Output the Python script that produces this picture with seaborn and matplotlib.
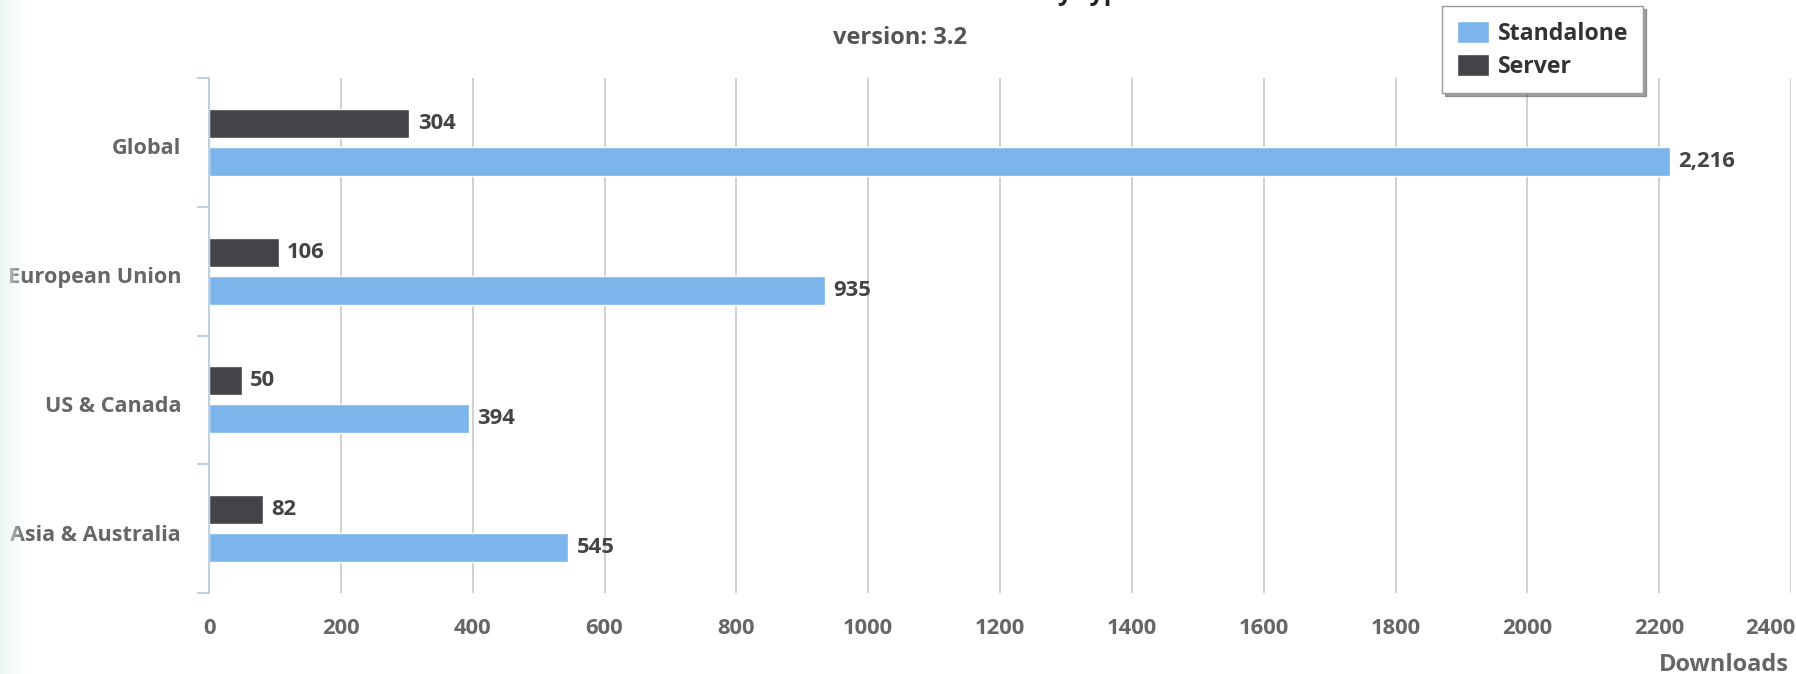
import numpy as np
import pandas as pd
import matplotlib
matplotlib.use("Agg")
import matplotlib.pyplot as plt
import matplotlib.transforms as mtransforms
import seaborn as sns
from matplotlib.patches import Patch

# ---- data ----
regions = ["Global", "European Union", "US & Canada", "Asia & Australia"]
standalone = [2216, 935, 394, 545]
server = [304, 106, 50, 82]
series_names = ["Standalone", "Server"]
x_ticks = list(range(0, 2401, 200))
title = "Downloads by type"
subtitle = "version: 3.2"
x_label = "Downloads"

colors = {"Standalone": "#7cb5ec", "Server": "#434348"}

df = pd.DataFrame({
    "region": regions * 2,
    "type": ["Standalone"] * len(regions) + ["Server"] * len(regions),
    "downloads": standalone + server,
})

sns.set_theme(style="white")
plt.rcParams["font.family"] = ["Open Sans", "DejaVu Sans"]

W, H = 1796, 674
fig = plt.figure(figsize=(W / 100, H / 100), dpi=100)
fig.patch.set_facecolor("white")
ax = fig.add_axes([209 / W, 1 - 593 / H, (1791 - 209) / W, (593 - 78) / H])

sns.barplot(data=df, y="region", x="downloads", hue="type",
            hue_order=["Server", "Standalone"], order=regions,
            palette=colors, width=0.59, gap=0.24, orient="h",
            legend=False, ax=ax, saturation=1, linewidth=1,
            edgecolor="white")

for cont in ax.containers:
    ax.bar_label(cont, labels=[f"{int(v):,}" for v in cont.datavalues],
                 padding=6, fontsize=15.8, fontweight="bold", color="#444444")

ax.set_xlim(0, 2400)
ax.set_ylim(3.5, -0.5)
ax.set_xticks(x_ticks)
ax.set_xticklabels([str(t) for t in x_ticks])
ax.set_xlabel("")
ax.set_ylabel("")
ax.xaxis.grid(True, color="#c8c8c8", lw=1.2)
ax.yaxis.grid(False)
ax.set_axisbelow(True)
for s in ["top", "right", "bottom"]:
    ax.spines[s].set_visible(False)
ax.spines["left"].set_color("#c0d0e0")
ax.spines["left"].set_linewidth(1.5)

ax.tick_params(axis="x", length=0, pad=18, labelsize=15.8, labelcolor="#666666")
ax.tick_params(axis="y", which="major", length=0, pad=20, labelsize=15.6,
               labelcolor="#666666")
ax.set_yticks(np.arange(-0.5, len(regions), 1), minor=True)
ax.tick_params(axis="y", which="minor", left=True, length=9, width=1.5,
               color="#c0d0e0")
for lab in ax.get_yticklabels() + ax.get_xticklabels():
    lab.set_fontweight("bold")
# nudge category labels slightly down
down = mtransforms.ScaledTranslation(0, -4 / 100, fig.dpi_scale_trans)
for lab in ax.get_yticklabels():
    lab.set_transform(lab.get_transform() + down)
# keep last x label inside the chart
ax.get_xticklabels()[-1].set_horizontalalignment("right")
ax.get_xticklabels()[-1].set_transform(
    ax.get_xticklabels()[-1].get_transform()
    + mtransforms.ScaledTranslation(4 / 100, 0, fig.dpi_scale_trans))

fig.text(1789 / W, 1 - 665 / H, x_label, ha="right", va="center",
         color="#666666", fontsize=17, fontweight="bold")
fig.text(900 / W, 1 - 38 / H, subtitle, ha="center", va="center",
         color="#555555", fontsize=17, fontweight="bold")
fig.text(1134 / W, 1 + 0.5 / H, title, ha="right", va="baseline",
         color="#222222", fontsize=18, fontweight="bold")

handles = [Patch(facecolor=colors[n], edgecolor="white") for n in series_names]
leg = fig.legend(handles, series_names, loc="upper left",
                 bbox_to_anchor=(1442 / W, 1 - 6 / H), borderaxespad=0,
                 frameon=True, fancybox=False, shadow=True,
                 edgecolor="#999999",
                 prop={"size": 16.7, "weight": "bold"},
                 handlelength=1.4, handleheight=1.1, handletextpad=0.4,
                 labelspacing=0.35, borderpad=0.63)
for t in leg.get_texts():
    t.set_color("#333333")

# left edge tint overlay
g = fig.add_axes([0, 0, 25 / W, 1])
grad = np.zeros((1, 64, 4))
grad[..., 0] = 0.92
grad[..., 1] = 0.96
grad[..., 2] = 0.96
grad[..., 3] = np.linspace(0.95, 0.0, 64)
g.imshow(grad, aspect="auto", extent=[0, 1, 0, 1])
g.axis("off")

fig.savefig("out.png", dpi=100)
